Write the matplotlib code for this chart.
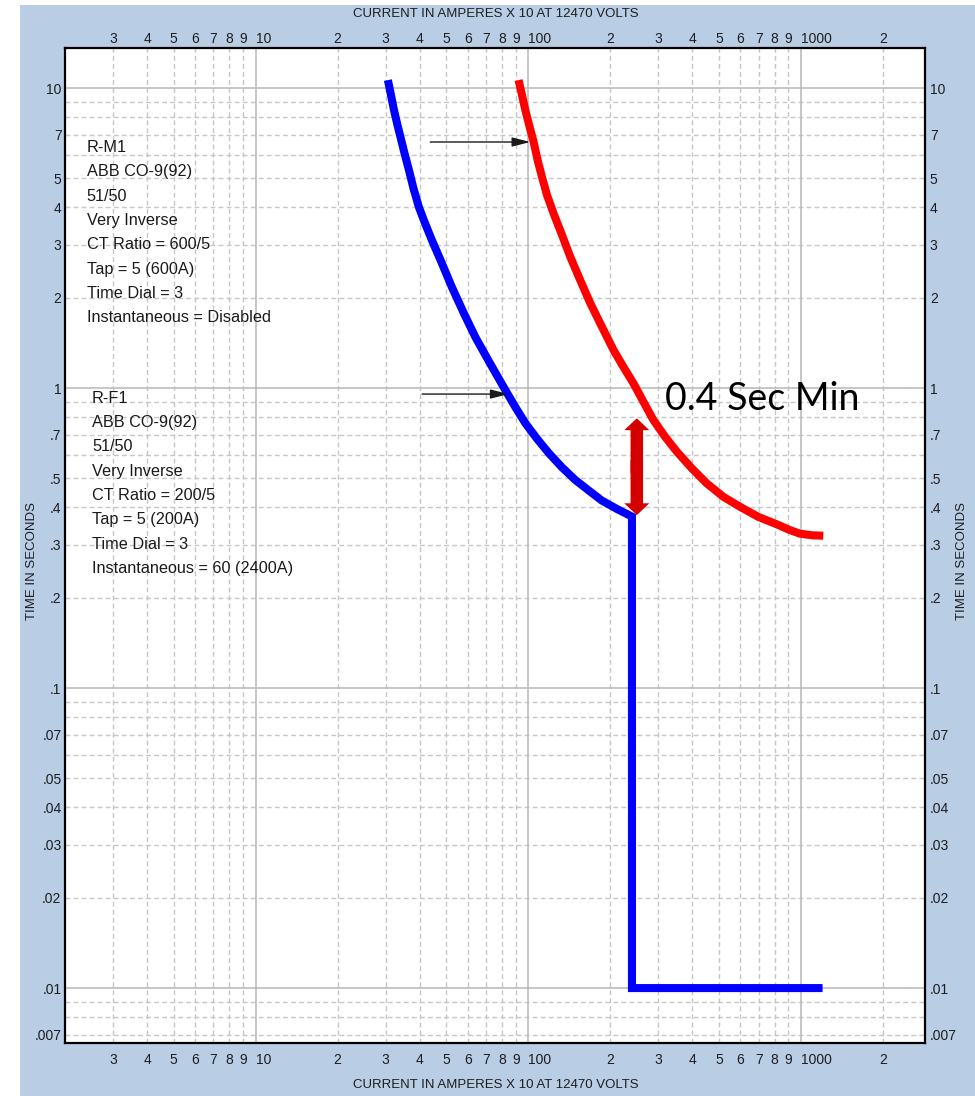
import matplotlib
matplotlib.use("Agg")
import matplotlib.pyplot as plt
from matplotlib.patches import Rectangle, FancyArrowPatch
from matplotlib.ticker import NullLocator
import numpy as np

# ---- data (current in amperes x10 at 12470 V, time in seconds) ----
# Feeder relay R-F1, time-overcurrent element
feeder_amps = [30.56, 31.36, 32.17, 33.13, 33.98, 35.15, 36.50, 37.91, 39.71, 41.78,
               44.32, 48.01, 52.46, 57.79, 63.95, 71.95, 82.38, 89.66, 97.5, 107.9,
               118.9, 132.7, 148.7, 165.9, 185.9, 211.8, 240]
feeder_secs = [10.63, 9.48, 8.45, 7.53, 6.87, 6.07, 5.33, 4.64, 4.01, 3.55,
               3.11, 2.63, 2.17, 1.79, 1.479, 1.221, 0.985, 0.864, 0.764, 0.676,
               0.607, 0.545, 0.494, 0.457, 0.422, 0.395, 0.373]
# Feeder relay R-F1, instantaneous element (60 x tap = 2400 A)
feeder_inst_amps = [240, 1200]
feeder_inst_secs = [0.01, 0.01]

# Main relay R-M1, time-overcurrent element
main_amps = [92.14, 94.82, 97.5, 101.1, 104.6, 108.2, 112.2, 117.1, 123.8, 132.9,
             142.5, 155.0, 168.7, 186.2, 205.3, 223.4, 243, 264.4, 287.7, 317.5,
             350.5, 397.8, 451.5, 519.3, 597.8, 697.8, 818, 912, 992, 1100, 1207]
main_secs = [10.63, 9.48, 8.45, 7.43, 6.62, 5.75, 5.06, 4.40, 3.82, 3.24,
             2.74, 2.29, 1.92, 1.60, 1.34, 1.175, 1.037, 0.900, 0.782, 0.688,
             0.614, 0.540, 0.481, 0.434, 0.402, 0.372, 0.351, 0.336, 0.327, 0.323, 0.322]

# coordination margin marker
margin_amps = 250
margin_top = 0.793
margin_bottom = 0.377

# relay setting notes
main_notes = ["R-M1", "ABB CO-9(92)", "51/50", "Very Inverse", "CT Ratio = 600/5",
              "Tap = 5 (600A)", "Time Dial = 3", "Instantaneous = Disabled"]
feeder_notes = ["R-F1", "ABB CO-9(92)", "51/50", "Very Inverse", "CT Ratio = 200/5",
                "Tap = 5 (200A)", "Time Dial = 3", "Instantaneous = 60 (2400A)"]

x_tick_vals = [3, 4, 5, 6, 7, 8, 9, 10, 20, 30, 40, 50, 60, 70, 80, 90, 100,
               200, 300, 400, 500, 600, 700, 800, 900, 1000, 2000]
x_tick_labels = ["3", "4", "5", "6", "7", "8", "9", "10", "2", "3", "4", "5", "6", "7",
                 "8", "9", "100", "2", "3", "4", "5", "6", "7", "8", "9", "1000", "2"]
y_tick_vals = [10, 7, 5, 4, 3, 2, 1, .7, .5, .4, .3, .2, .1, .07, .05, .04, .03, .02, .01, .007]
y_tick_labels = ["10", "7", "5", "4", "3", "2", "1", ".7", ".5", ".4", ".3", ".2", ".1",
                 ".07", ".05", ".04", ".03", ".02", ".01", ".007"]

axis_title_x = "CURRENT IN AMPERES X 10 AT 12470 VOLTS"
axis_title_y = "TIME IN SECONDS"

# ---- figure ----
plt.rcParams["font.family"] = ["Liberation Sans", "DejaVu Sans"]
W, H = 975, 1096
fig = plt.figure(figsize=(W / 100, H / 100), dpi=100)
fig.patch.set_facecolor("white")
fig.patches.append(Rectangle((20 / W, 0), (W - 20) / W, (H - 5) / H,
                             transform=fig.transFigure, facecolor="#b9cde5",
                             edgecolor="none", zorder=-10))

ax = fig.add_axes([65 / W, 53 / H, 860 / W, 995 / H])
ax.set_facecolor("white")
ax.set_xscale("log")
ax.set_yscale("log")
xmin, xmax = 2.0, 2850
ymin, ymax = 0.00656, 13.6
ax.set_xlim(xmin, xmax)
ax.set_ylim(ymin, ymax)

# grid: solid at decades, dashed at intermediate multiples
grid_dash = dict(color="#c6c6c6", lw=1.0, ls=(0, (3.5, 2.3)), zorder=1)
grid_solid = dict(color="#bcbcbc", lw=1.2, zorder=1.1)
for dec in [1, 10, 100, 1000]:
    for m in range(2, 10):
        v = m * dec
        if xmin < v < xmax:
            ax.axvline(v, **grid_dash)
    if xmin < dec < xmax:
        ax.axvline(dec, **grid_solid)
for dec in [0.001, 0.01, 0.1, 1, 10]:
    for m in range(2, 10):
        v = m * dec
        if ymin < v < ymax:
            ax.axhline(v, **grid_dash)
    if ymin < dec < ymax:
        ax.axhline(dec, **grid_solid)

for s in ax.spines.values():
    s.set_color("black")
    s.set_linewidth(1.6)
    s.set_zorder(10)

tick_font = dict(fontsize=10, color="#1e1e1e")
decade_labels = {"10", "100", "1000"}


def style_x_labels(labels):
    # decade labels start at their grid line, the rest are centred on it
    for lbl in labels:
        if lbl.get_text() in decade_labels:
            lbl.set_ha("left")


ax.xaxis.set_minor_locator(NullLocator())
ax.yaxis.set_minor_locator(NullLocator())
ax.set_xticks(x_tick_vals, x_tick_labels, **tick_font)
ax.set_yticks(y_tick_vals, y_tick_labels, **tick_font)
ax.tick_params(axis="x", length=0, pad=7)
ax.tick_params(axis="y", length=0, pad=2.5)
style_x_labels(ax.get_xticklabels())

top = ax.secondary_xaxis("top")
top.xaxis.set_minor_locator(NullLocator())
top.set_xticks(x_tick_vals, x_tick_labels, **tick_font)
top.tick_params(length=0, pad=1.5)
top.spines["top"].set_visible(False)
style_x_labels(top.get_xticklabels())

right = ax.secondary_yaxis("right")
right.yaxis.set_minor_locator(NullLocator())
right.set_yticks(y_tick_vals, y_tick_labels, **tick_font)
right.tick_params(length=0, pad=3.5)
right.spines["right"].set_visible(False)

title_font = dict(fontsize=9.5, color="#1e1e1e")
fig.text(496 / W, 1 - 14 / H, axis_title_x, ha="center", va="center", **title_font)
fig.text(496 / W, 1 - 1085 / H, axis_title_x, ha="center", va="center", **title_font)
fig.text(32 / W, 1 - 561 / H, axis_title_y, ha="center", va="center", rotation=90, **title_font)
fig.text(962 / W, 1 - 561 / H, axis_title_y, ha="center", va="center", rotation=90, **title_font)

# ---- curves ----
ax.plot(main_amps, main_secs, color="#ff0000", lw=5.8, solid_capstyle="butt",
        solid_joinstyle="round", zorder=5)
# feeder: inverse-time curve continuing into the instantaneous step
ax.plot(feeder_amps + feeder_inst_amps, feeder_secs + feeder_inst_secs,
        color="#0000ff", lw=5.8, solid_capstyle="butt", solid_joinstyle="miter", zorder=5)

# ---- setting notes with pointer arrows ----
note_font = dict(fontsize=11.7, color="#1a1a1a")
line_step = 24.3  # pixels between lines
for i, line in enumerate(main_notes):
    ax.annotate(line, xy=(2.40, 6.12), xytext=(0, -i * line_step),
                textcoords="offset pixels", va="baseline", ha="left", zorder=6, **note_font)
for i, line in enumerate(feeder_notes):
    ax.annotate(line, xy=(2.51, 0.893), xytext=(0, -i * line_step),
                textcoords="offset pixels", va="baseline", ha="left", zorder=6, **note_font)

ptr = dict(arrowstyle="-|>,head_length=0.55,head_width=0.14", color="#1a1a1a", lw=1.0,
           mutation_scale=20, shrinkA=0, shrinkB=0)
ax.annotate("", xy=(101.7, 6.61), xytext=(43.7, 6.61), arrowprops=ptr, zorder=7)
ax.annotate("", xy=(84.7, 0.955), xytext=(40.8, 0.955), arrowprops=ptr, zorder=7)

# ---- coordination margin: double-headed arrow and label ----
mid = np.sqrt(margin_top * margin_bottom)
arrow_style = "simple,head_length=0.95,head_width=2.0,tail_width=1.0"
for start, end in [(mid * 0.95, margin_top), (mid / 0.95, margin_bottom)]:
    ax.add_patch(FancyArrowPatch((margin_amps, start), (margin_amps, end),
                                 arrowstyle=arrow_style, mutation_scale=9,
                                 color="#d40000", lw=0, shrinkA=0, shrinkB=0, zorder=8))

ax.text(317.5, 0.845, "0.4 Sec Min", fontsize=27, family=["Lato", "DejaVu Sans"],
        color="black", ha="left", va="baseline", zorder=9)

fig.savefig("out.png", dpi=100, facecolor=fig.get_facecolor())
